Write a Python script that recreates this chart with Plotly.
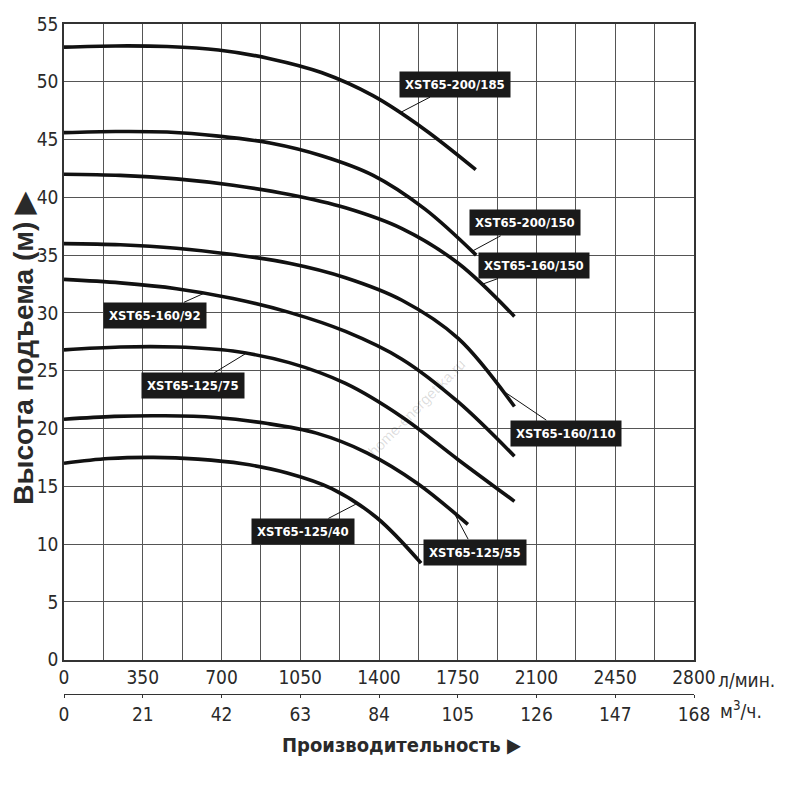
import numpy as np
import plotly.graph_objects as go

# tick values
flow_lpm_ticks = [0, 350, 700, 1050, 1400, 1750, 2100, 2450, 2800]
flow_m3h_ticks = [0, 21, 42, 63, 84, 105, 126, 147, 168]
head_ticks = [0, 5, 10, 15, 20, 25, 30, 35, 40, 45, 50, 55]

# pump curves, flow in l/min, head in m
q_200_185 = [0, 229, 458, 686, 915, 1144, 1373, 1601, 1830]
h_200_185 = [53.0, 53.1, 53.05, 52.75, 52.0, 50.8, 48.8, 45.9, 42.4]

q_200_150 = [0, 229, 458, 687, 916, 1145, 1374, 1603, 1832]
h_200_150 = [45.6, 45.7, 45.65, 45.3, 44.7, 43.6, 41.9, 39.0, 35.0]

q_160_150 = [0, 250, 500, 751, 1001, 1251, 1502, 1752, 2002]
h_160_150 = [42.0, 41.9, 41.6, 41.05, 40.25, 39.1, 37.3, 34.3, 29.7]

q_160_110 = [0, 250, 500, 751, 1001, 1251, 1502, 1752, 2002]
h_160_110 = [36.0, 35.9, 35.6, 35.05, 34.3, 33.05, 31.1, 27.8, 21.9]

q_160_92 = [0, 250, 500, 751, 1001, 1251, 1502, 1752, 2002]
h_160_92 = [32.9, 32.6, 32.1, 31.25, 30.05, 28.4, 26.0, 22.3, 17.6]

q_125_75 = [0, 250, 500, 751, 1001, 1251, 1502, 1752, 2002]
h_125_75 = [26.8, 27.05, 27.05, 26.7, 25.7, 23.9, 21.0, 17.3, 13.7]

q_125_55 = [0, 224, 449, 673, 898, 1122, 1346, 1571, 1795]
h_125_55 = [20.8, 21.05, 21.1, 20.95, 20.45, 19.6, 17.9, 15.25, 11.7]

q_125_40 = [0, 198, 397, 595, 794, 992, 1190, 1389, 1587]
h_125_40 = [17.0, 17.4, 17.5, 17.35, 16.95, 16.15, 14.8, 12.3, 8.35]

curves = [
    ("XST65-200/185", q_200_185, h_200_185),
    ("XST65-200/150", q_200_150, h_200_150),
    ("XST65-160/150", q_160_150, h_160_150),
    ("XST65-160/110", q_160_110, h_160_110),
    ("XST65-160/92", q_160_92, h_160_92),
    ("XST65-125/75", q_125_75, h_125_75),
    ("XST65-125/55", q_125_55, h_125_55),
    ("XST65-125/40", q_125_40, h_125_40),
]

# label box centre (flow, head) and flow where the leader touches the curve
label_pos = {
    "XST65-200/185": (1738, 49.8, 1491),
    "XST65-200/150": (2048, 37.8, 1813),
    "XST65-160/150": (2089, 34.1, 1853),
    "XST65-160/110": (2229, 19.6, 1936),
    "XST65-160/92": (405, 29.8, 621),
    "XST65-125/75": (573, 23.7, 807),
    "XST65-125/55": (1827, 9.3, 1735),
    "XST65-125/40": (1064, 11.1, 1297),
}

narrow = "DejaVu Sans Condensed, Liberation Sans Narrow, Liberation Sans, Arial"
grid_col = "#555555"
text_col = "#2a2a2a"

fig = go.Figure()
for name, q, h in curves:
    fig.add_trace(go.Scatter(x=q, y=h, mode="lines", name=name,
                             line=dict(color="#111111", width=3.6, shape="spline", smoothing=1.0),
                             hoverinfo="skip", showlegend=False))

# dummy trace so the m3/h axis gets drawn
fig.add_trace(go.Scatter(x=[0, 168], y=[None, None], xaxis="x2", yaxis="y",
                         mode="lines", showlegend=False, hoverinfo="skip"))

annotations = []
for name, q, h in curves:
    lx, ly, tx = label_pos[name]
    ty = float(np.interp(tx, q, h))
    annotations.append(dict(
        x=tx, y=ty, xref="x", yref="y", ax=lx, ay=ly, axref="x", ayref="y",
        text="<b>" + name + "</b>", showarrow=True, arrowhead=0, arrowwidth=1,
        arrowcolor="#111111", standoff=0,
        font=dict(family=narrow, size=13, color="white"),
        bgcolor="#1a1a1a", borderpad=5,
    ))

annotations += [
    dict(text="л/мин.", x=1.035, y=0.0838, xref="paper", yref="paper",
         xanchor="left", yanchor="middle", showarrow=False,
         font=dict(family=narrow, size=19, color=text_col)),
    dict(text="м<sup>3</sup>/ч.", x=1.038, y=0.042, xref="paper", yref="paper",
         xanchor="left", yanchor="middle", showarrow=False,
         font=dict(family=narrow, size=19, color=text_col)),
    dict(text="<b>Производительность ▶</b>", x=0.535, y=-0.007, xref="paper", yref="paper",
         xanchor="center", yanchor="middle", showarrow=False,
         font=dict(family=narrow, size=20, color=text_col)),
    dict(text="<b>Высота подъема (м) ▶</b>", x=-0.0635, y=0.548, xref="paper", yref="paper",
         xanchor="center", yanchor="middle", showarrow=False, textangle=-90,
         font=dict(family="Liberation Sans, Arial", size=28, color=text_col)),
    dict(text="home-energetika.ru", x=0.560, y=0.4637, xref="paper", yref="paper",
         xanchor="center", yanchor="middle", showarrow=False, textangle=-45,
         font=dict(family="Liberation Sans, Arial", size=15, color="rgba(0,0,0,0.14)")),
]

# the page body adds 8px, so the figure is 792 wide with margins shifted to match
fig.update_layout(
    width=792, height=792,
    margin=dict(l=56, r=106, t=16, b=60, autoexpand=False),
    paper_bgcolor="white", plot_bgcolor="white",
    annotations=annotations,
    xaxis=dict(range=[0, 2800], tickvals=flow_lpm_ticks,
               ticktext=[str(v) for v in flow_lpm_ticks],
               showgrid=True, gridcolor=grid_col, gridwidth=1,
               minor=dict(dtick=175, tick0=0, showgrid=True, gridcolor=grid_col, gridwidth=1),
               showline=True, linecolor="#333333", linewidth=1.5, mirror=True,
               ticks="", zeroline=False, anchor="y", automargin=False,
               tickfont=dict(family=narrow, size=19, color=text_col)),
    xaxis2=dict(range=[0, 168], tickvals=flow_m3h_ticks,
                overlaying="x", anchor="free", position=0.0642, side="bottom",
                showgrid=False, zeroline=False, showline=True, linecolor="#333333",
                linewidth=1.2, ticks="outside", ticklen=3, tickcolor="#333333",
                automargin=False,
                tickfont=dict(family=narrow, size=19, color=text_col)),
    yaxis=dict(range=[0, 55], tickvals=head_ticks, domain=[0.1122, 1],
               showgrid=True, gridcolor=grid_col, gridwidth=1,
               showline=True, linecolor="#333333", linewidth=1.5, mirror=True,
               ticks="", zeroline=False, automargin=False,
               tickfont=dict(family=narrow, size=19, color=text_col)),
)

fig.write_html("out.html")
